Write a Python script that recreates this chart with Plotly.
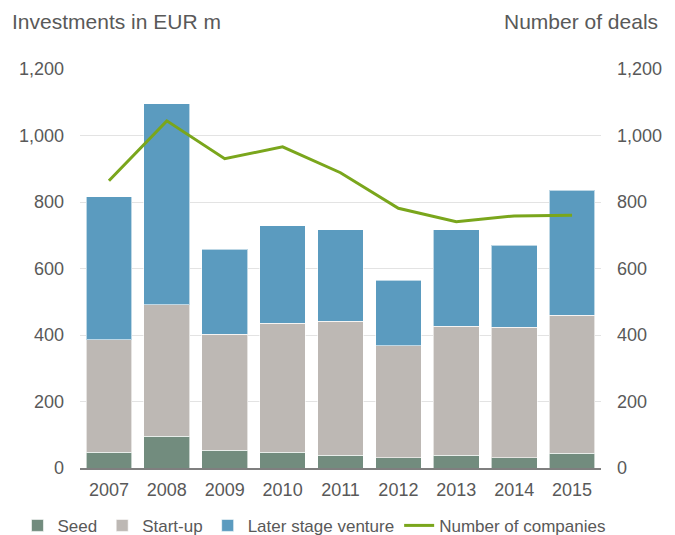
import plotly.graph_objects as go

years = ["2007", "2008", "2009", "2010", "2011", "2012", "2013", "2014", "2015"]
seed = [47, 96, 54, 47, 39, 31, 39, 31, 44]
startup_top = [385, 491, 403, 436, 442, 367, 426, 424, 459]
total = [816, 1095, 658, 729, 716, 565, 716, 670, 836]
startup = [s - d for s, d in zip(startup_top, seed)]
later = [t - s for t, s in zip(total, startup_top)]
companies = [864, 1044, 930, 966, 888, 781, 741, 758, 760]

font_family = "Liberation Sans, Arial, sans-serif"
grey = "#595959"

fig = go.Figure()
edge = dict(color="rgba(255,255,255,0.6)", width=1)
fig.add_trace(go.Bar(x=years, y=seed, name="Seed", marker=dict(color="#728c7e", line=edge)))
fig.add_trace(go.Bar(x=years, y=startup, name="Start-up", marker=dict(color="#bdb8b4", line=edge)))
fig.add_trace(go.Bar(x=years, y=later, name="Later stage venture", marker=dict(color="#5b9bbf", line=edge)))
fig.add_trace(go.Scatter(x=years, y=companies, name="Number of companies", mode="lines",
                         line=dict(color="#7aa61c", width=3), yaxis="y2"))

fig.update_layout(
    barmode="stack",
    bargap=0.21,
    width=675, height=535,
    margin=dict(l=80, r=74, t=69, b=67, autoexpand=False),
    plot_bgcolor="white", paper_bgcolor="white",
    font=dict(family=font_family, size=18, color=grey),
    xaxis=dict(type="category", showgrid=False, showline=True, linecolor="#7f7f7f", linewidth=2,
               ticks="", tickfont=dict(size=18, color=grey), automargin=False, ticklabelstandoff=4),
    yaxis=dict(range=[0, 1200], dtick=200, tickformat=",", showgrid=True, gridcolor="#e3e3e3",
               gridwidth=1, zeroline=False, ticks="", tickfont=dict(size=18, color=grey),
               automargin=False, ticklabelstandoff=15),
    yaxis2=dict(range=[0, 1200], dtick=200, tickformat=",", overlaying="y", side="right",
                showgrid=False, zeroline=False, ticks="", tickfont=dict(size=18, color=grey),
                automargin=False, ticklabelstandoff=15),
    legend=dict(orientation="h", x=-0.12, xanchor="left", y=-0.145, yanchor="middle",
                font=dict(size=17, color=grey), traceorder="normal", itemwidth=30),
    showlegend=True,
    annotations=[
        dict(text="Investments in EUR m", xref="paper", yref="paper", x=-0.134, y=1.12,
             xanchor="left", yanchor="middle", showarrow=False, font=dict(size=21, color=grey)),
        dict(text="Number of deals", xref="paper", yref="paper", x=1.113, y=1.12,
             xanchor="right", yanchor="middle", showarrow=False, font=dict(size=21, color=grey)),
    ],
)

fig.write_html("out.html", config={"displayModeBar": False},
               post_script="document.body.style.margin='0px';document.body.style.overflow='hidden';")
